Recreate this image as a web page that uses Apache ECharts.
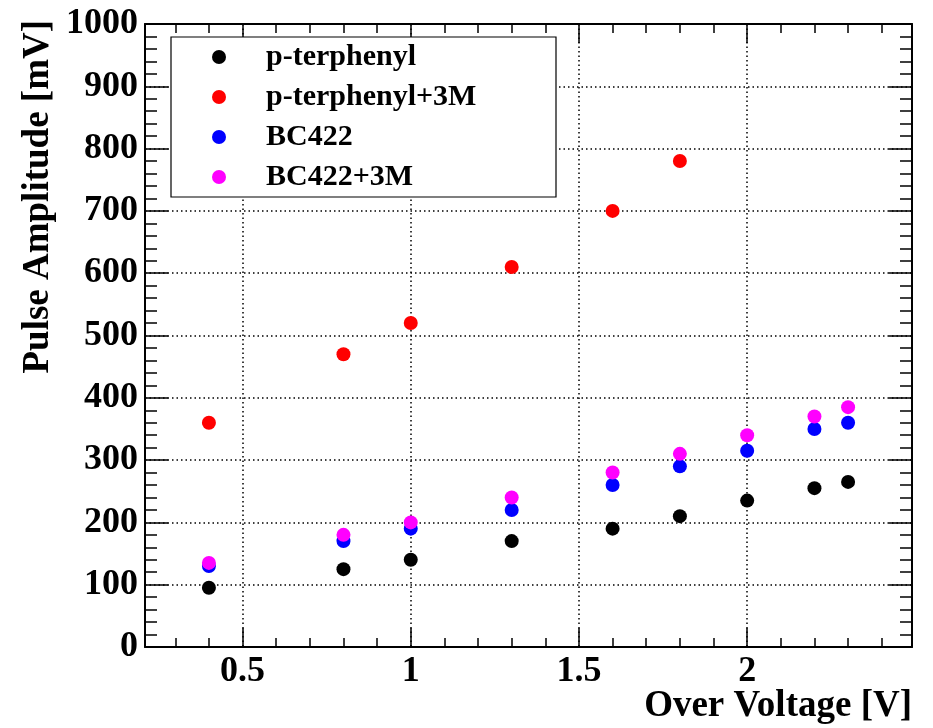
<!DOCTYPE html>
<html>
<head>
<meta charset="utf-8">
<title>Pulse Amplitude vs Over Voltage</title>
<script src="https://cdn.jsdelivr.net/npm/echarts@6/dist/echarts.min.js"></script>
<style>
  html, body { margin: 0; padding: 0; background: #fff; }
  #chart { width: 933px; height: 728px; }
</style>
</head>
<body>
<div id="chart"></div>
<script>
// Over voltage settings [V]
const overVoltage = [0.4, 0.8, 1.0, 1.3, 1.6, 1.8, 2.0, 2.2, 2.3];
const overVoltage3M = [0.4, 0.8, 1.0, 1.3, 1.6, 1.8];

// Pulse amplitudes [mV]
const pTerphenyl = [95, 125, 140, 170, 190, 210, 235, 255, 265];
const pTerphenyl3M = [360, 470, 520, 610, 700, 780];
const bc422 = [130, 170, 190, 220, 260, 290, 315, 350, 360];
const bc4223M = [135, 180, 200, 240, 280, 310, 340, 370, 385];

const seriesNames = ['p-terphenyl', 'p-terphenyl+3M', 'BC422', 'BC422+3M'];
const seriesColors = ['#000000', '#ff0000', '#0000ff', '#ff00ff'];

// Axis ranges and titles
const xRange = [0.21, 2.49];
const yRange = [0, 1000];
const xTitle = 'Over Voltage [V]';
const yTitle = 'Pulse Amplitude [mV]';

const FONT = '"Liberation Serif", "Times New Roman", serif';

function pairs(xs, ys) {
  return xs.map((x, i) => [x, ys[i]]);
}

const seriesData = [
  pairs(overVoltage, pTerphenyl),
  pairs(overVoltage3M, pTerphenyl3M),
  pairs(overVoltage, bc422),
  pairs(overVoltage, bc4223M)
];

const frameLine = { show: true, onZero: false, lineStyle: { color: '#000', width: 2 } };
const gridDots = { color: '#000', type: [1.5, 3], width: 1.5 };

function xAxisCfg(pos, primary) {
  return {
    type: 'value',
    position: pos,
    min: xRange[0],
    max: xRange[1],
    splitNumber: 5,
    axisLine: frameLine,
    axisTick: { show: true, inside: true, length: 19, lineStyle: { color: '#000', width: 1.5 } },
    minorTick: { show: true, splitNumber: 5, length: 9, lineStyle: { color: '#000', width: 1.5 } },
    splitLine: primary ? { show: true, showMinLine: false, showMaxLine: false, lineStyle: gridDots }
                       : { show: false },
    axisLabel: primary ? {
      show: true, showMinLabel: false, showMaxLabel: false, margin: 7,
      fontFamily: FONT, fontWeight: 'bold', fontSize: 36, lineHeight: 36, color: '#000',
      formatter: v => String(v)
    } : { show: false }
  };
}

function yAxisCfg(pos, primary) {
  return {
    type: 'value',
    position: pos,
    min: yRange[0],
    max: yRange[1],
    interval: 100,
    axisLine: frameLine,
    axisTick: { show: true, inside: true, length: 23, lineStyle: { color: '#000', width: 1.5 } },
    minorTick: { show: true, splitNumber: 5, length: 12, lineStyle: { color: '#000', width: 1.5 } },
    splitLine: primary ? { show: true, showMinLine: false, showMaxLine: false, lineStyle: gridDots }
                       : { show: false },
    axisLabel: primary ? {
      show: true, margin: 7,
      fontFamily: FONT, fontWeight: 'bold', fontSize: 36, lineHeight: 36, color: '#000',
      formatter: v => String(v)
    } : { show: false }
  };
}

const titleFont = 'bold 37px ' + FONT;

const chart = echarts.init(document.getElementById('chart'), null, { renderer: 'canvas' });

chart.setOption({
  animation: false,
  backgroundColor: '#ffffff',
  grid: {
    left: 145, right: 21, top: 24, bottom: 81,
    containLabel: false,
    outerBoundsMode: 'none'
  },
  xAxis: [xAxisCfg('bottom', true), xAxisCfg('top', false)],
  yAxis: [yAxisCfg('left', true), yAxisCfg('right', false)],
  graphic: [
    {
      type: 'text',
      x: 912, y: 706,
      silent: true,
      style: { text: xTitle, font: titleFont, fill: '#000', align: 'right', verticalAlign: 'middle' }
    },
    {
      type: 'text',
      x: 38, y: 20,
      rotation: Math.PI / 2,
      silent: true,
      style: { text: yTitle, font: titleFont, fill: '#000', align: 'right', verticalAlign: 'middle' }
    }
  ],
  legend: {
    show: true,
    orient: 'vertical',
    left: 171,
    top: 37,
    padding: [5, 0, 5, 41],
    itemGap: 10,
    itemWidth: 14,
    itemHeight: 14,
    icon: 'circle',
    selectedMode: false,
    backgroundColor: '#ffffff',
    borderColor: '#000',
    borderWidth: 1.2,
    borderRadius: 0,
    data: seriesNames,
    textStyle: {
      fontFamily: FONT, fontWeight: 'bold', fontSize: 30, lineHeight: 30, color: '#000',
      padding: [0, 0, 0, 35], width: 290
    }
  },
  series: seriesNames.map((name, i) => ({
    name: name,
    type: 'scatter',
    xAxisIndex: 0,
    yAxisIndex: 0,
    symbol: 'circle',
    symbolSize: 14,
    itemStyle: { color: seriesColors[i], opacity: 1 },
    emphasis: { disabled: true },
    data: seriesData[i],
    z: 3 + i
  }))
});
</script>
</body>
</html>
